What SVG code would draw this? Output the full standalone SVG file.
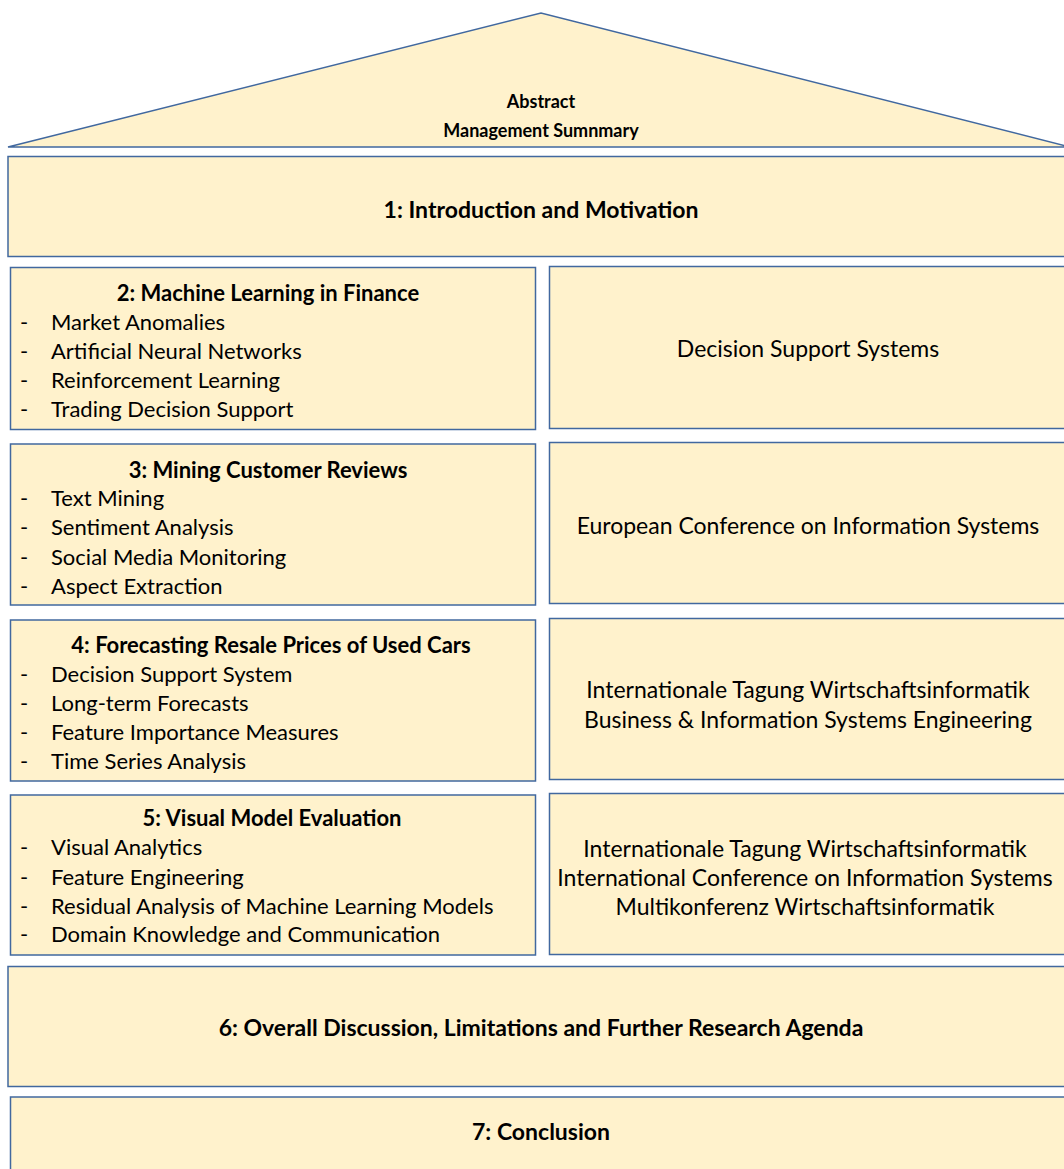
<svg xmlns="http://www.w3.org/2000/svg" width="1064" height="1169" viewBox="0 0 1064 1169">
<style>
.box{fill:#FFF2CC;stroke:#41689F;stroke-width:1.5}
.t{font-family:Lato,"Liberation Sans",sans-serif;font-size:22px;fill:#000;dominant-baseline:central}
.r{font-size:23px}
.b{font-weight:bold}
.h{font-family:Lato,"Liberation Sans",sans-serif;font-size:23px;font-weight:bold;fill:#000;dominant-baseline:central;text-anchor:middle}
.roof{font-size:18px}
.c{text-anchor:middle}
</style>
<rect width="1064" height="1169" fill="#fff"/>
<g id="roof">
<polygon class="box" points="8,147 541,13 1070,147"/>
<text class="h roof" x="541" y="101">Abstract</text>
<text class="h roof" x="541" y="130">Management Sumnmary</text>
</g>
<g id="ch1">
<rect class="box" x="8" y="156.5" width="1062" height="100"/>
<text class="h" x="541" y="209">1: Introduction and Motivation</text>
</g>
<g id="ch2">
<rect class="box" x="10.5" y="267.5" width="525" height="162"/>
<text class="t b c" x="268" y="292">2: Machine Learning in Finance</text>
<text class="t" x="20" y="321">-</text><text class="t" x="51" y="321">Market Anomalies</text>
<text class="t" x="20" y="350">-</text><text class="t" x="51" y="350">Artificial Neural Networks</text>
<text class="t" x="20" y="379">-</text><text class="t" x="51" y="379">Reinforcement Learning</text>
<text class="t" x="20" y="408">-</text><text class="t" x="51" y="408">Trading Decision Support</text>
</g>
<g id="venue2">
<rect class="box" x="549.5" y="266.5" width="520" height="162"/>
<text class="t r c" x="808" y="348">Decision Support Systems</text>
</g>
<g id="ch3">
<rect class="box" x="10.5" y="444" width="525" height="161"/>
<text class="t b c" x="268" y="469">3: Mining Customer Reviews</text>
<text class="t" x="20" y="497">-</text><text class="t" x="51" y="497">Text Mining</text>
<text class="t" x="20" y="526">-</text><text class="t" x="51" y="526">Sentiment Analysis</text>
<text class="t" x="20" y="556">-</text><text class="t" x="51" y="556">Social Media Monitoring</text>
<text class="t" x="20" y="585">-</text><text class="t" x="51" y="585">Aspect Extraction</text>
</g>
<g id="venue3">
<rect class="box" x="549.5" y="442.5" width="520" height="161"/>
<text class="t r c" x="808" y="525">European Conference on Information Systems</text>
</g>
<g id="ch4">
<rect class="box" x="10.5" y="620" width="525" height="161"/>
<text class="t b c" x="271" y="644">4: Forecasting Resale Prices of Used Cars</text>
<text class="t" x="20" y="673">-</text><text class="t" x="51" y="673">Decision Support System</text>
<text class="t" x="20" y="702">-</text><text class="t" x="51" y="702">Long-term Forecasts</text>
<text class="t" x="20" y="731">-</text><text class="t" x="51" y="731">Feature Importance Measures</text>
<text class="t" x="20" y="760">-</text><text class="t" x="51" y="760">Time Series Analysis</text>
</g>
<g id="venue4">
<rect class="box" x="549.5" y="618.5" width="520" height="161"/>
<text class="t r c" x="808" y="689">Internationale Tagung Wirtschaftsinformatik</text>
<text class="t r c" x="808" y="719">Business &amp; Information Systems Engineering</text>
</g>
<g id="ch5">
<rect class="box" x="10.5" y="795" width="525" height="160"/>
<text class="t b c" x="272" y="817">5: Visual Model Evaluation</text>
<text class="t" x="20" y="846">-</text><text class="t" x="51" y="846">Visual Analytics</text>
<text class="t" x="20" y="876">-</text><text class="t" x="51" y="876">Feature Engineering</text>
<text class="t" x="20" y="905">-</text><text class="t" x="51" y="905">Residual Analysis of Machine Learning Models</text>
<text class="t" x="20" y="933">-</text><text class="t" x="51" y="933">Domain Knowledge and Communication</text>
</g>
<g id="venue5">
<rect class="box" x="549.5" y="793.5" width="520" height="161"/>
<text class="t r c" x="805" y="848">Internationale Tagung Wirtschaftsinformatik</text>
<text class="t r c" x="805" y="877">International Conference on Information Systems</text>
<text class="t r c" x="805" y="906">Multikonferenz Wirtschaftsinformatik</text>
</g>
<g id="ch6">
<rect class="box" x="8" y="966.5" width="1062" height="120"/>
<text class="h" x="541" y="1027">6: Overall Discussion, Limitations and Further Research Agenda</text>
</g>
<g id="ch7">
<rect class="box" x="10.5" y="1097" width="1062" height="90"/>
<text class="h" x="541" y="1131">7: Conclusion</text>
</g>
<g id="connectors"></g>
</svg>
